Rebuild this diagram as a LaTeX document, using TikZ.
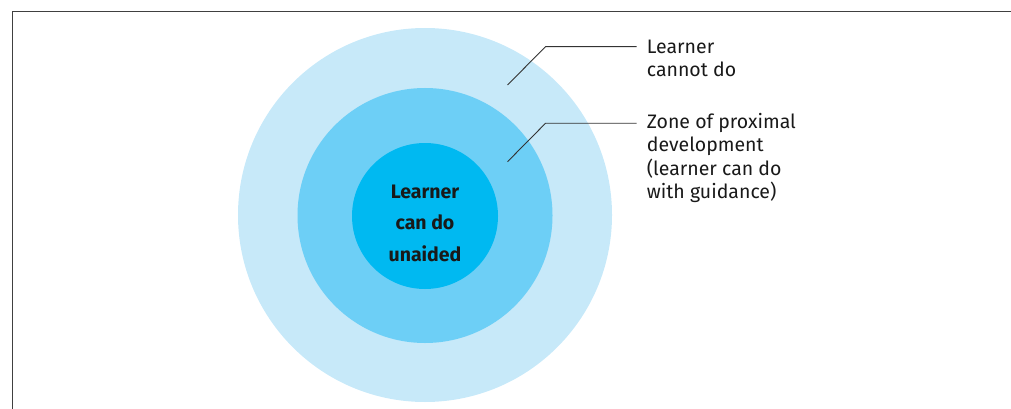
\documentclass[tikz,border=0pt]{standalone}
\usepackage{fontspec}
\setmainfont{Fira Sans}
\begin{document}
\begin{tikzpicture}[x=1pt,y=-1pt,
  ring/.style={circle,inner sep=0pt,minimum size=#1},
  leader/.style={draw=black!80,line width=0.9pt},
  callout/.style={anchor=base west,align=left,inner sep=0pt,
    font=\fontsize{19.5}{23.3}\selectfont,text=black!90},
  core/.style={anchor=base,align=center,inner sep=0pt,
    font=\fontsize{19.5}{31.5}\selectfont\bfseries,text=black!90}]
  \definecolor{paleblue}{HTML}{C7E9F9}
  \definecolor{midblue}{HTML}{6DCFF6}
  \definecolor{deepblue}{HTML}{00B9F1}
  \useasboundingbox (0,0) rectangle (1011,409);
  % frame edges (top and left)
  \draw[draw=black!75,line width=1.5pt] (12.5,409) -- (12.5,11.5) -- (1011,11.5);
  % concentric zones
  \node[ring=374pt,fill=paleblue] (outer) at (425,215) {};
  \node[ring=255pt,fill=midblue] (middle) at (425,215.5) {};
  \node[ring=146pt,fill=deepblue] (inner) at (425,216) {};
  % centre label (anchored on the baseline of its last line)
  \node[core] (can) at (425,261) {Learner\\can do\\unaided};
  % side labels (anchored on the baseline of their last line)
  \node[callout] (cannot) at (646.7,76.7) {Learner\\cannot do};
  \node[callout] (zpd) at (646.7,198.3) {Zone of proximal\\development\\(learner can do\\with guidance)};
  % leader lines
  \coordinate (a1) at (507.5,85);
  \coordinate (b1) at (545.5,46.7);
  \coordinate (e1) at (636.7,46.7);
  \coordinate (a2) at (507.5,161.7);
  \coordinate (b2) at (545.5,123.3);
  \coordinate (e2) at (636.7,123.3);
  \draw[leader] (a1) -- (b1) -- (e1);
  \draw[leader] (a2) -- (b2) -- (e2);
\end{tikzpicture}
\end{document}
